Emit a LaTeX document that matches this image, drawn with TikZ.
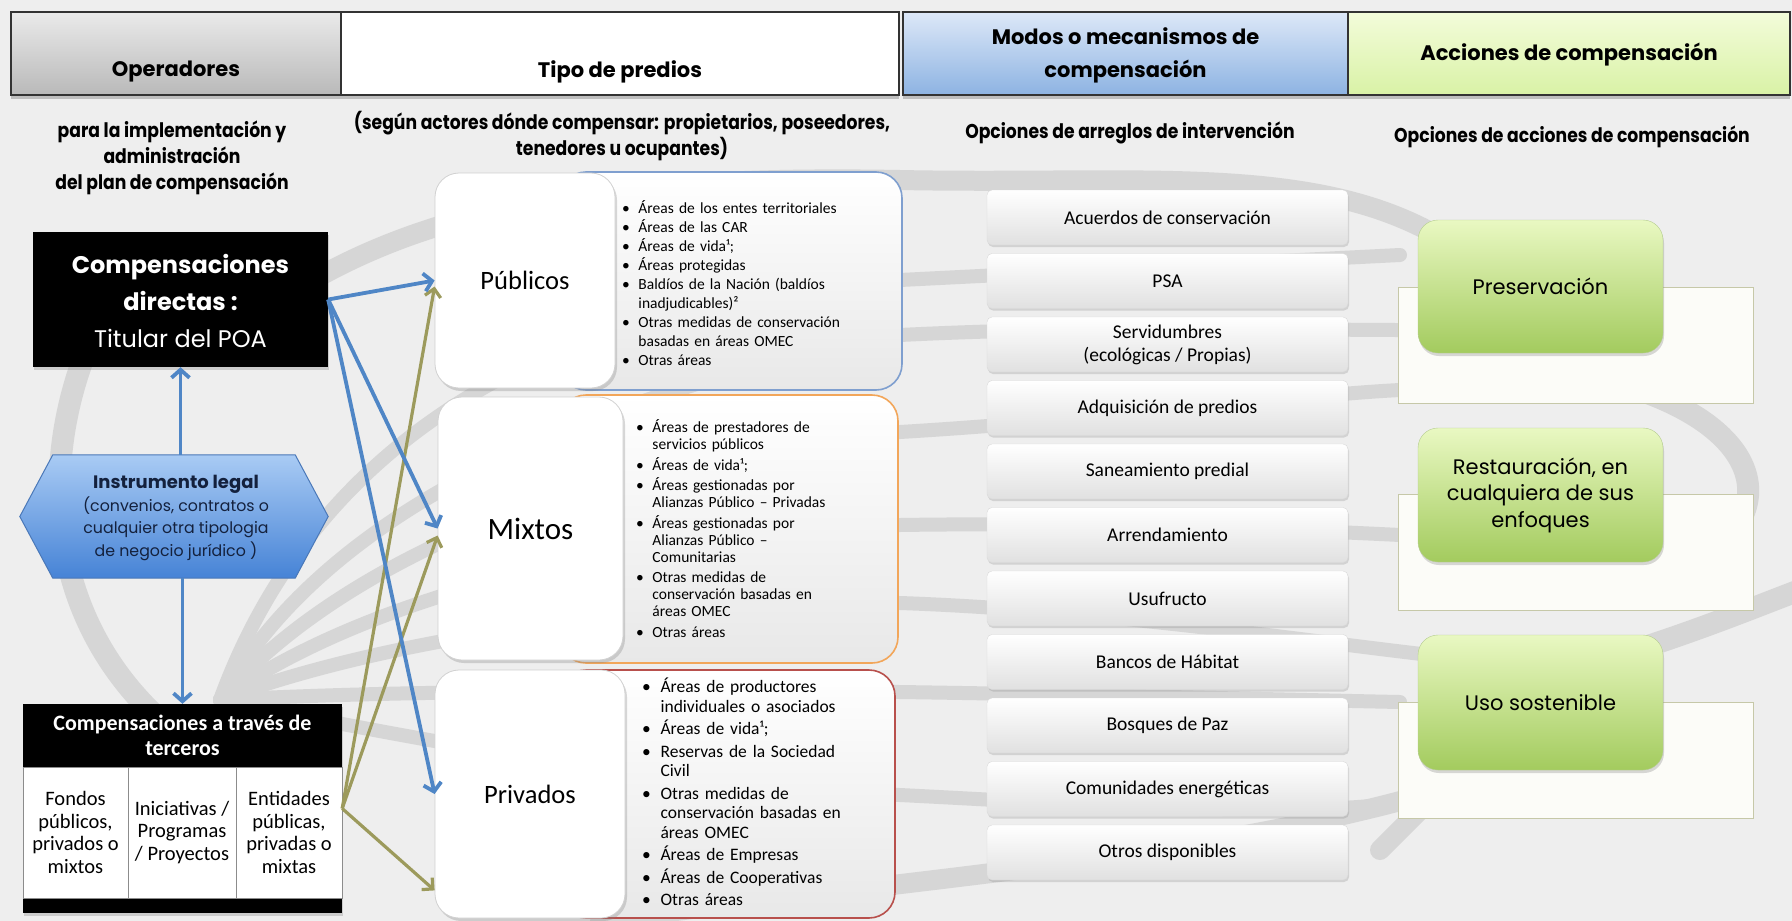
\documentclass[tikz,border=0pt]{standalone}
\usepackage{fontspec}
\usetikzlibrary{arrows.meta,shadows,calc}
\setmainfont{Carlito}
\newfontfamily\cg{Poppins}
\newfontfamily\tw{Poppins}[FakeStretch=0.86]
\definecolor{bgc}{HTML}{EEEEEE}
\definecolor{bandc}{HTML}{D6D6D6}
\definecolor{arrblue}{HTML}{4F86C6}
\definecolor{arrolive}{HTML}{9C9A5C}
\definecolor{navy}{HTML}{14213D}
\definecolor{pubc}{HTML}{7F9FCF}
\definecolor{mixc}{HTML}{F2A65A}
\definecolor{privc}{HTML}{B8504C}
\definecolor{opTop}{HTML}{EAEAEA}
\definecolor{opBot}{HTML}{B9B9B9}
\definecolor{moTop}{HTML}{DDE8F8}
\definecolor{moBot}{HTML}{8DB3E2}
\definecolor{acTop}{HTML}{F3FCDA}
\definecolor{acBot}{HTML}{D9F2A6}
\definecolor{hexTop}{HTML}{A9CBF4}
\definecolor{hexBot}{HTML}{4683D6}
\definecolor{hexBorder}{HTML}{4A78B8}
\definecolor{grTop}{HTML}{E9F8C2}
\definecolor{grBot}{HTML}{A3CB5E}
\definecolor{grBorder}{HTML}{B5CC90}
\definecolor{wrFill}{HTML}{FCFCF8}
\definecolor{wrBorder}{HTML}{C6C8A8}
\newcommand\bitem[1]{\par\noindent\hangindent=1.05em\hangafter=1\makebox[1.05em][l]{\textbullet}#1}
\begin{document}
\begin{tikzpicture}[x=1pt,y=-1pt,
  hdr/.style={draw=black!80, line width=1.1pt, minimum height=83pt, inner sep=0pt,
    drop shadow={shadow xshift=0pt,shadow yshift=-4pt,opacity=.35,fill=black!60}},
  hdrtxt/.style={font=\cg\bfseries\fontsize{21}{33}\selectfont, align=center, inner sep=0pt},
  subtxt/.style={font=\tw\bfseries\fontsize{20}{26}\selectfont, align=center, inner sep=0pt},
  barr/.style={draw=arrblue, line width=3.8pt, -{Straight Barb[length=8pt,width=18pt]}},
  oarr/.style={draw=arrolive, line width=3.2pt, -{Straight Barb[length=8pt,width=16pt]}},
  band/.style={draw=bandc, line width=#1, line cap=round},
  infobox/.style={rounded corners=26pt, line width=1.6pt, top color=white, bottom color=black!9, inner sep=0pt},
  labbox/.style={fill=white, draw=black!18, rounded corners=24pt, line width=0.8pt, inner sep=0pt,
    drop shadow={shadow xshift=2pt,shadow yshift=-3pt,opacity=.3}, font=\fontsize{26.5}{30}\selectfont},
  bul/.style={anchor=north west, text width=265pt, align=left, inner sep=0pt},
  modbox/.style={minimum width=361pt, minimum height=55pt, rounded corners=5pt, draw=black!15,
    top color=white, bottom color=black!12, font=\fontsize{19.5}{23}\selectfont, align=center, inner sep=0pt,
    drop shadow={shadow xshift=1pt,shadow yshift=-2pt,opacity=.25}},
  greenbox/.style={minimum width=245pt, rounded corners=20pt, top color=grTop, bottom color=grBot, draw=grBorder,
    font=\cg\fontsize{21}{26.5}\selectfont, align=center, inner sep=0pt,
    drop shadow={shadow xshift=1pt,shadow yshift=-3pt,opacity=.3}},
  whiterect/.style={minimum width=355pt, minimum height=116pt, fill=wrFill, draw=wrBorder, line width=1pt},
  cell/.style={fill=white, draw=black!45, line width=0.8pt, minimum height=131pt, inner sep=0pt, align=center,
    font=\fontsize{20.5}{22.5}\selectfont},
  blackbox/.style={fill=black, inner sep=0pt, drop shadow={shadow xshift=1pt,shadow yshift=-3pt,opacity=.3}},
]
\useasboundingbox (0,0) rectangle (1792,921);
\fill[bgc] (0,0) rectangle (1792,921);

% background ribbons
\draw[band=22pt] (95,330) .. controls (40,450) and (40,610) .. (160,720);
\draw[band=20pt] (240,330) .. controls (400,200) and (620,175) .. (900,180) .. controls (1150,185) and (1330,160) .. (1460,250);
\draw[band=14pt] (220,700) .. controls (300,480) and (500,300) .. (900,280) .. controls (1100,270) and (1300,260) .. (1400,255);
\draw[band=14pt] (220,700) .. controls (320,520) and (560,400) .. (900,335) .. controls (1100,325) and (1300,330) .. (1400,330);
\draw[band=14pt] (220,700) .. controls (340,560) and (600,450) .. (900,432) .. controls (1100,420) and (1300,395) .. (1400,390);
\draw[band=14pt] (220,700) .. controls (360,600) and (620,530) .. (900,525) .. controls (1100,522) and (1300,530) .. (1400,535);
\draw[band=14pt] (220,700) .. controls (380,640) and (640,600) .. (900,603) .. controls (1100,610) and (1300,640) .. (1430,655);
\draw[band=14pt] (220,700) .. controls (400,690) and (660,690) .. (900,692) .. controls (1100,695) and (1300,700) .. (1400,702);
\draw[band=14pt] (220,700) .. controls (420,740) and (680,790) .. (900,795) .. controls (1100,805) and (1300,820) .. (1420,800);
\draw[band=20pt] (600,921) .. controls (900,880) and (1200,860) .. (1440,790);
\draw[band=22pt] (1560,370) .. controls (1790,410) and (1800,540) .. (1640,585);
\draw[band=22pt] (1620,655) .. controls (1700,630) and (1760,605) .. (1800,590);
\draw[band=20pt] (1380,850) .. controls (1400,830) and (1420,810) .. (1440,790);

% header
\node[hdr, minimum width=330pt, top color=opTop, bottom color=opBot] (hop) at (176,53.5) {};
\node[hdr, minimum width=558pt, fill=white] (htp) at (620,53.5) {};
\node[hdr, minimum width=445pt, top color=moTop, bottom color=moBot] (hmo) at (1125.5,53.5) {};
\node[hdr, minimum width=442pt, top color=acTop, bottom color=acBot] (hac) at (1569,53.5) {};
\node[hdrtxt] (top) at (176,72) {Operadores};
\node[hdrtxt] (ttp) at (620,72) {Tipo de predios};
\node[hdrtxt] (tmo) at (1125.5,55) {Modos o mecanismos de\\compensación};
\node[hdrtxt] (tac) at (1569,55) {Acciones de compensación};

% subtitles
\node[subtxt] (sop) at (172,158) {para la implementación y\\administración\\del plan de compensación};
\node[subtxt] (stp) at (622,136) {(según actores dónde compensar: propietarios, poseedores,\\tenedores u ocupantes)};
\node[subtxt] (smo) at (1130,133) {Opciones de arreglos de intervención};
\node[subtxt] (sac) at (1572,137) {Opciones de acciones de compensación};

% predios info boxes
\node[infobox, draw=pubc, minimum width=342pt, minimum height=218pt] (pubi) at (731,281) {};
\node[infobox, draw=mixc, minimum width=338pt, minimum height=268pt] (mixi) at (729,529) {};
\node[infobox, draw=privc, minimum width=335pt, minimum height=248pt] (privi) at (727.5,794) {};

\node[labbox, minimum width=180pt, minimum height=215pt] (pub) at (525,280.5) {Públicos};
\node[labbox, minimum width=185pt, minimum height=263pt, font=\fontsize{31}{34}\selectfont] (mix) at (530.5,528.5) {Mixtos};
\node[labbox, minimum width=190pt, minimum height=248pt] (priv) at (530,794) {Privados};

\node[bul, font=\fontsize{15.5}{19}\selectfont] (pubt) at (622,194) {%
\bitem{Áreas de los entes territoriales}
\bitem{Áreas de las CAR}
\bitem{Áreas de vida¹;}
\bitem{Áreas protegidas}
\bitem{Baldíos de la Nación (baldíos\newline inadjudicables)²}
\bitem{Otras medidas de conservación\newline basadas en áreas OMEC}
\bitem{Otras áreas}};

\node[bul, font=\fontsize{15.5}{17}\selectfont] (mixt) at (636,412) {%
\setlength{\parskip}{3.5pt}%
\bitem{Áreas de prestadores de\newline servicios públicos}
\bitem{Áreas de vida¹;}
\bitem{Áreas gestionadas por\newline Alianzas Público – Privadas}
\bitem{Áreas gestionadas por\newline Alianzas Público –\newline Comunitarias}
\bitem{Otras medidas de\newline conservación basadas en\newline áreas OMEC}
\bitem{Otras áreas}};

\node[bul, font=\fontsize{17.5}{19.5}\selectfont] (privt) at (642,670) {%
\setlength{\parskip}{3pt}%
\bitem{Áreas de productores\newline individuales o asociados}
\bitem{Áreas de vida¹;}
\bitem{Reservas de la Sociedad\newline Civil}
\bitem{Otras medidas de\newline conservación basadas en\newline áreas OMEC}
\bitem{Áreas de Empresas}
\bitem{Áreas de Cooperativas}
\bitem{Otras áreas}};

% modos column
\foreach \t [count=\i] in {Acuerdos de conservación,PSA,{Servidumbres\\(ecológicas / Propias)},Adquisición de predios,Saneamiento predial,Arrendamiento,Usufructo,Bancos de Hábitat,Bosques de Paz,Comunidades energéticas,Otros disponibles}
  \node[modbox] (m\i) at (1167.5,{217.5+63.5*(\i-1)}) {\t};

% acciones column
\node[whiterect] (w1) at (1575.5,345) {};
\node[whiterect] (w2) at (1575.5,552.5) {};
\node[whiterect] (w3) at (1575.5,760) {};
\node[greenbox, minimum height=133pt] (g1) at (1540.5,286.5) {Preservación};
\node[greenbox, minimum height=134pt] (g2) at (1540.5,495) {Restauración, en\\cualquiera de sus\\enfoques};
\node[greenbox, minimum height=135pt] (g3) at (1540.5,702.5) {Uso sostenible};

% left column
\node[blackbox, minimum width=295pt, minimum height=135pt] (bb) at (180.5,299.5) {};
\node[text=white, align=center, inner sep=0pt, font=\cg\fontsize{24}{37}\selectfont] (bbt) at (180.5,301) {{\bfseries Compensaciones}\\{\bfseries directas :}\\Titular del POA};

\node[minimum width=308pt, minimum height=123pt, inner sep=0pt] (hex) at (174,516.5) {};
\path[top color=hexTop, bottom color=hexBot, draw=hexBorder, line width=1pt]
  (hex.west) -- ($(hex.north west)+(33,0)$) -- ($(hex.north east)+(-33,0)$) -- (hex.east)
  -- ($(hex.south east)+(-33,0)$) -- ($(hex.south west)+(33,0)$) -- cycle;
\node[text=navy, align=center, inner sep=0pt, font=\cg\fontsize{15.8}{22.5}\selectfont] (hext) at (176,518) {{\bfseries\fontsize{18}{22.5}\selectfont Instrumento legal}\\(convenios, contratos o\\cualquier otra tipologia\\de negocio jurídico )};

\node[blackbox, minimum width=319pt, minimum height=209pt] (tp) at (182.5,808.5) {};
\node[text=white, align=center, inner sep=0pt, font=\bfseries\fontsize{22}{25}\selectfont] (tph) at (182.5,735) {Compensaciones a través de\\terceros};
\node[cell, minimum width=105pt] (c1) at (75.5,832.5) {Fondos\\públicos,\\privados o\\mixtos};
\node[cell, minimum width=108pt] (c2) at (182,832.5) {Iniciativas /\\Programas\\/ Proyectos};
\node[cell, minimum width=106pt] (c3) at (289,832.5) {Entidades\\públicas,\\privadas o\\mixtas};

% connectors
\draw[barr] (bb.south |- hex.north) -- (bb.south);
\draw[barr] (tp.north |- hex.south) -- (tp.north);
\draw[oarr] (tp.east) -- ($(pub.west)+(0,6)$);
\draw[oarr] (tp.east) -- ($(mix.west)+(0,7)$);
\draw[oarr] (tp.east) -- ($(priv.south west)+(0,-28)$);
\draw[barr] (bb.east) -- (pub.west);
\draw[barr] (bb.east) -- (mix.west);
\draw[barr] (bb.east) -- (priv.west);
\end{tikzpicture}
\end{document}
